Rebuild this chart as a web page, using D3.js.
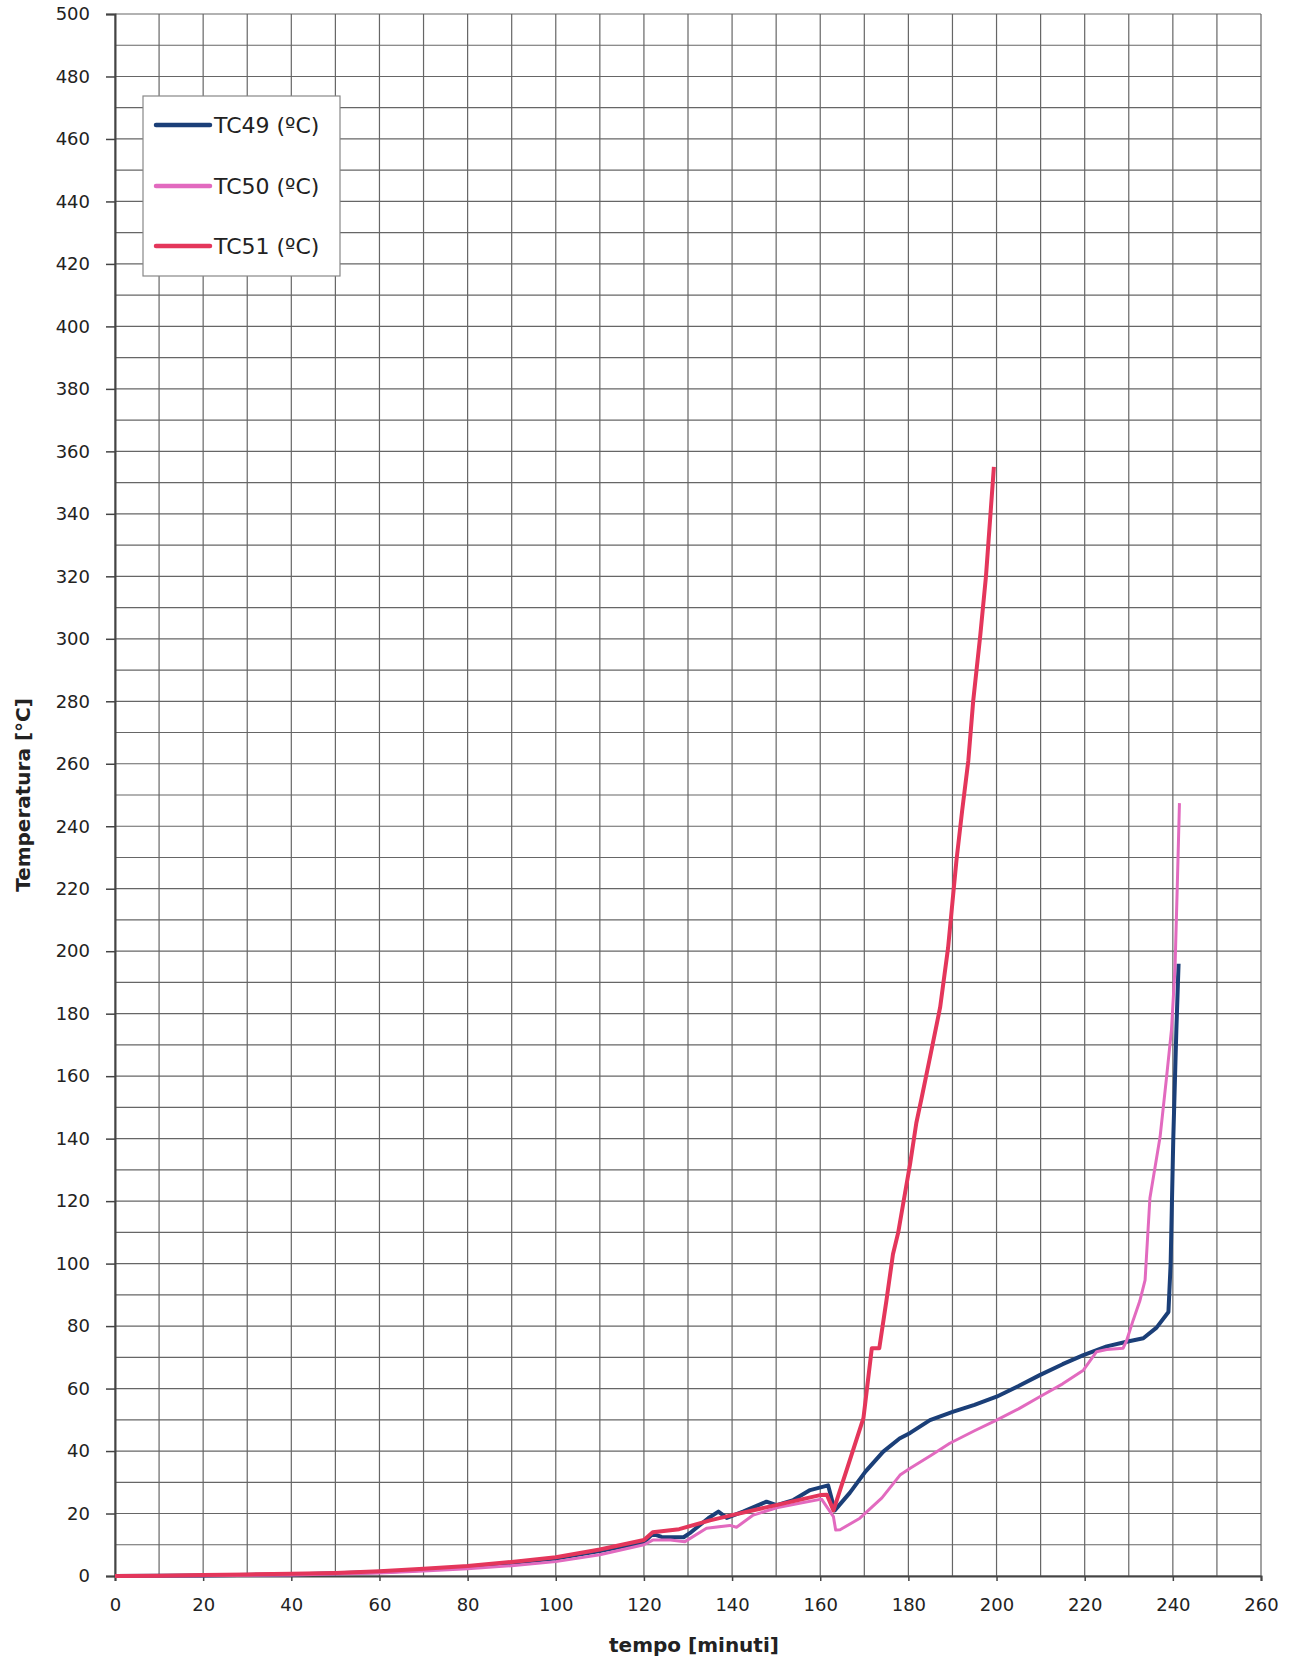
<!DOCTYPE html>
<html>
<head>
<meta charset="utf-8">
<script src="https://cdnjs.cloudflare.com/ajax/libs/d3/7.8.5/d3.min.js"></script>
<style>
  body { margin: 0; background: white; }
  text { font-family: "DejaVu Sans", sans-serif; fill: #222; }
</style>
</head>
<body>
<div class="chart"></div>
<script>
// readings [tempo, temperatura] taken off the scanned chart
let tc49 = [[0,0],[20,0.2],[40,0.5],[60,1.3],[70,2],[80,3],[90,4.2],[100,5.6],[110,8],[120,10.8],
  [122,13.5],[124,12.5],[129,12.4],[130.4,13.7],[134.6,18.5],[136.9,20.6],[138.8,18.6],[142.5,20.6],
  [147.8,23.8],[150.1,22.7],[153.9,24.3],[157.7,27.5],[161.8,29],[163.3,21],[166.7,26.6],[170.3,33.5],
  [174.3,39.8],[178,44],[180.4,45.8],[184.9,49.9],[190.2,52.6],[195,54.8],[200,57.4],[205,60.8],
  [209.8,64.3],[215,67.8],[219.7,70.7],[225,73.5],[229.5,75],[233.3,76.1],[236.3,79.5],[239,84.5],
  [239.5,100],[240.1,140],[240.8,175],[241.3,196]];

let tc50 = [[0,0],[20,0.1],[40,0.3],[60,1],[70,1.6],[80,2.3],[90,3.3],[100,4.6],[110,6.8],[120,10],
  [122,11.5],[126,11.5],[129.3,11],[134.2,15.3],[139.5,16.2],[141,15.6],[144.8,19.5],[150.1,21.8],
  [155,23.2],[160.3,24.6],[163,19],[163.5,14.7],[164.5,14.8],[169,18.5],[174,25],[178.1,32.3],
  [180.4,34.5],[185,38.5],[189.4,42.5],[195,46.5],[200,49.9],[205,53.5],[209.8,57.4],[215,61.5],
  [219.7,65.9],[222.7,71.8],[225,72.5],[228.7,72.9],[229.5,75.3],[231,81.9],[232.5,88],[233.7,94.7],
  [234.8,121],[237.1,140.5],[238.6,160],[239.7,175],[240.5,195],[241,220.5],[241.5,247.4]];

let tc51 = [[0,0],[10,0.1],[20,0.3],[30,0.5],[40,0.7],[50,1],[60,1.5],[70,2.3],[80,3.2],[90,4.5],
  [100,6],[110,8.5],[120,11.5],[122,14],[128,15],[135,17.8],[140,19.5],[150,22.7],[160,25.9],
  [161.5,26],[163,21],[166,34],[169.8,50.5],[171.7,72.9],[173.4,72.9],[175,88],[176.5,103],
  [177.7,110],[178.8,119],[180.4,132],[181.8,145],[183,153],[184.9,166],[187.2,182],[189,201],
  [190.9,229],[192.2,245],[193.6,261],[194.7,280],[196.3,301],[197.6,320],[199.4,355]];

let seriesNames = ["TC49 (ºC)", "TC50 (ºC)", "TC51 (ºC)"];
let xTicks = d3.range(0, 261, 20);
let yTicks = d3.range(0, 501, 20);
let xGrid = d3.range(0, 261, 10);
let yGrid = d3.range(0, 501, 10);

let colors = ["#1b3f78", "#e26abf", "#e4365b"];
let widths = [4, 3, 4];

let plotLeft = 115, plotRight = 1261, plotTop = 14, plotBottom = 1576;

let svg = d3.select(".chart")
  .append("svg")
  .attr("width", 1289)
  .attr("height", 1662);

let x = d3.scaleLinear().domain([0, 260]).range([plotLeft, plotRight]);
let y = d3.scaleLinear().domain([0, 500]).range([plotBottom, plotTop]);

// grid
svg.append("g")
  .selectAll("line")
  .data(xGrid)
  .join("line")
  .attr("x1", d => x(d)).attr("x2", d => x(d))
  .attr("y1", plotTop).attr("y2", plotBottom)
  .attr("stroke", "#666")
  .attr("stroke-width", 1.2);

svg.append("g")
  .selectAll("line")
  .data(yGrid)
  .join("line")
  .attr("x1", plotLeft).attr("x2", plotRight)
  .attr("y1", d => y(d)).attr("y2", d => y(d))
  .attr("stroke", "#666")
  .attr("stroke-width", 1.2);

// axes
let yAxis = svg.append("g")
  .attr("transform", "translate(" + plotLeft + ",0)")
  .call(d3.axisLeft(y).tickValues(yTicks).tickSize(9).tickPadding(16));

let xAxis = svg.append("g")
  .attr("transform", "translate(0," + plotBottom + ")")
  .call(d3.axisBottom(x).tickValues(xTicks).tickSize(5).tickPadding(17));

[yAxis, xAxis].forEach(a => {
  a.select(".domain").attr("stroke", "#444").attr("stroke-width", 2);
  a.selectAll(".tick line").attr("stroke", "#444").attr("stroke-width", 1.5);
  a.selectAll(".tick text")
    .style("font-family", "DejaVu Sans, sans-serif")
    .style("font-size", "18px")
    .attr("fill", "#222");
});

// lines
let line = d3.line()
  .x(d => x(d[0]))
  .y(d => y(d[1]));

[tc49, tc50, tc51].forEach((s, i) => {
  svg.append("path")
    .datum(s)
    .attr("d", line)
    .attr("fill", "none")
    .attr("stroke", colors[i])
    .attr("stroke-width", widths[i])
    .attr("stroke-linejoin", "round");
});

// legend
svg.append("rect")
  .attr("x", 143).attr("y", 96)
  .attr("width", 197).attr("height", 180)
  .attr("fill", "white")
  .attr("stroke", "#888")
  .attr("stroke-width", 1.2);

let legendY = [125, 186, 246];
seriesNames.forEach((n, i) => {
  svg.append("line")
    .attr("x1", 156).attr("x2", 210)
    .attr("y1", legendY[i]).attr("y2", legendY[i])
    .attr("stroke", colors[i])
    .attr("stroke-width", 4.5)
    .attr("stroke-linecap", "round");
  svg.append("text")
    .attr("x", 214)
    .attr("y", legendY[i])
    .attr("dominant-baseline", "central")
    .style("font-size", "22px")
    .text(n);
});

// axis titles
svg.append("text")
  .attr("transform", "translate(23,795) rotate(-90)")
  .attr("text-anchor", "middle")
  .attr("dominant-baseline", "central")
  .style("font-size", "20px")
  .style("font-weight", "bold")
  .text("Temperatura [°C]");

svg.append("text")
  .attr("x", 694)
  .attr("y", 1652)
  .attr("text-anchor", "middle")
  .style("font-size", "20px")
  .style("font-weight", "bold")
  .text("tempo [minuti]");
</script>
</body>
</html>
